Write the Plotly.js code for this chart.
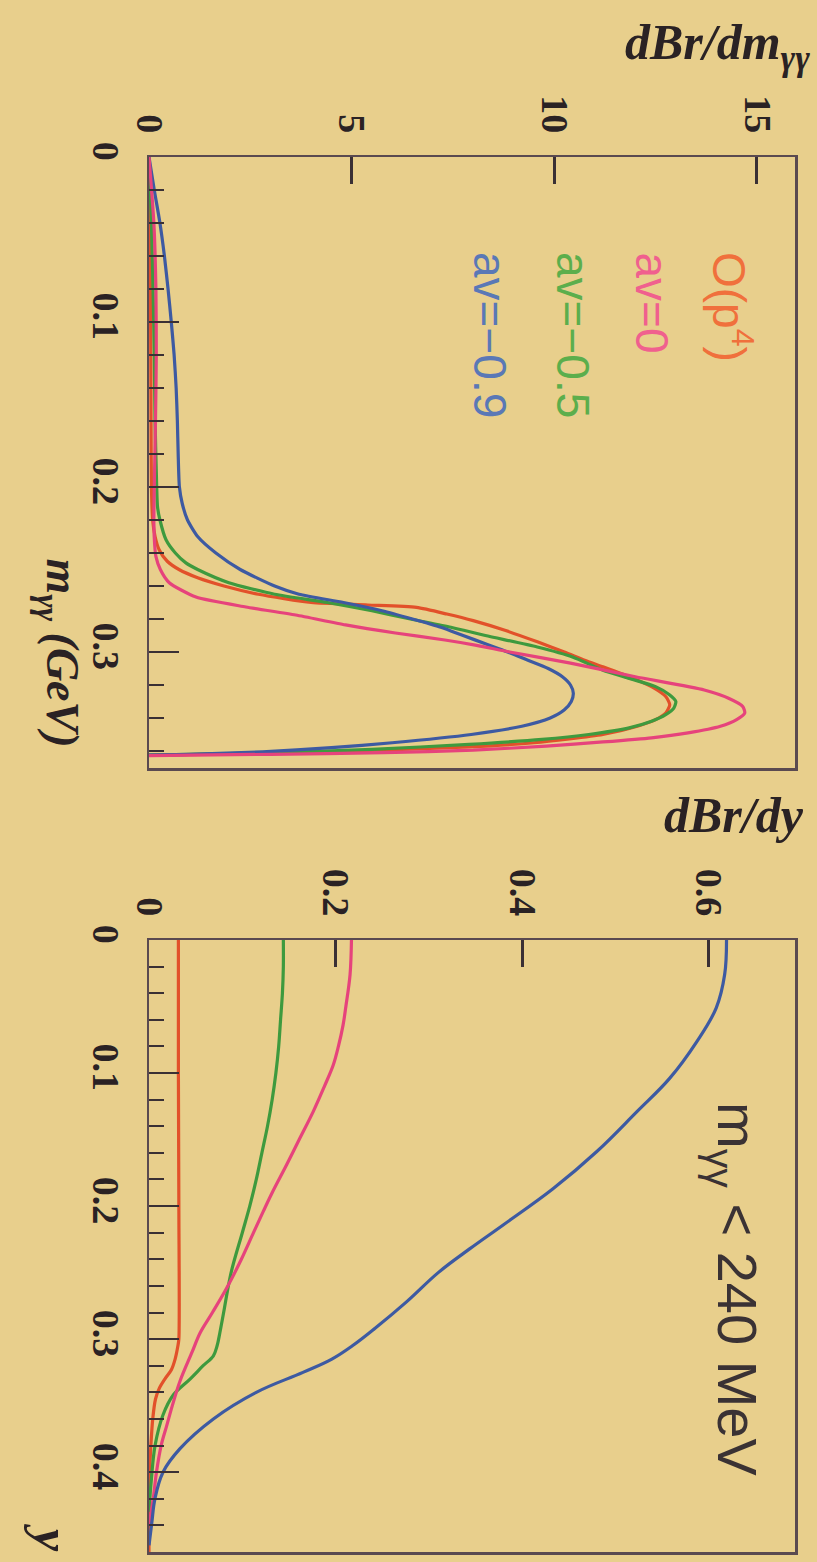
<!DOCTYPE html>
<html>
<head>
<meta charset="utf-8">
<script src="https://cdn.plot.ly/plotly-3.0.1.min.js"></script>
<style>
html,body{margin:0;padding:0;background:#E8CF8C;}
#chart{width:817px;height:1562px;}
</style>
</head>
<body>
<div id="chart"></div>
<script>
// ---------- Top panel: dBr/dm_gg versus m_gg (GeV) ----------
const mRed   = [0, 0.04, 0.10, 0.16, 0.20, 0.22, 0.23, 0.238, 0.245, 0.25, 0.255, 0.26, 0.265, 0.27, 0.2715, 0.273, 0.277, 0.281, 0.287, 0.294, 0.300, 0.305, 0.309, 0.315, 0.321, 0.327, 0.332, 0.337, 0.341, 0.345, 0.350, 0.355, 0.3575, 0.360, 0.3615, 0.3625];
const dRed   = [0, 0.02, 0.04, 0.05, 0.06, 0.09, 0.15, 0.25, 0.45, 0.74, 1.2, 1.85, 2.7, 4.0, 5.4, 6.6, 7.35, 8.0, 8.8, 9.6, 10.25, 10.75, 11.2, 11.85, 12.4, 12.75, 12.85, 12.75, 12.5, 12.05, 11.2, 9.5, 7.9, 5.0, 2.8, 0];

const mGreen = [0, 0.04, 0.08, 0.12, 0.16, 0.20, 0.212, 0.22, 0.232, 0.24, 0.246, 0.25, 0.258, 0.265, 0.27, 0.275, 0.28, 0.285, 0.29, 0.297, 0.303, 0.311, 0.316, 0.321, 0.326, 0.330, 0.334, 0.338, 0.342, 0.346, 0.350, 0.353, 0.356, 0.359, 0.361, 0.3625];
const dGreen = [0, 0.06, 0.10, 0.13, 0.15, 0.19, 0.21, 0.27, 0.42, 0.65, 0.91, 1.2, 1.97, 3.1, 4.4, 5.5, 6.45, 7.45, 8.3, 9.58, 10.45, 11.2, 11.85, 12.5, 12.85, 13.0, 12.95, 12.75, 12.4, 11.85, 10.85, 9.7, 7.9, 5.5, 3.2, 0];

const mPink  = [0, 0.04, 0.08, 0.12, 0.16, 0.20, 0.222, 0.235, 0.242, 0.25, 0.258, 0.2667, 0.2727, 0.2776, 0.2836, 0.2885, 0.2927, 0.2958, 0.300, 0.3067, 0.315, 0.323, 0.328, 0.333, 0.337, 0.341, 0.345, 0.349, 0.352, 0.3545, 0.357, 0.3595, 0.361, 0.362, 0.3628];
const dPink  = [0, 0.12, 0.17, 0.18, 0.16, 0.13, 0.12, 0.14, 0.17, 0.28, 0.5, 1.16, 2.39, 3.62, 4.85, 6.08, 7.3, 8.05, 8.9, 10.4, 12.0, 13.7, 14.3, 14.65, 14.7, 14.5, 14.1, 13.3, 12.4, 11.2, 9.8, 8.0, 5.8, 3.0, 0];

const mBlue  = [0, 0.02, 0.04, 0.06, 0.08, 0.10, 0.12, 0.14, 0.16, 0.18, 0.20, 0.21, 0.22, 0.23, 0.24, 0.25, 0.26, 0.265, 0.27, 0.275, 0.28, 0.285, 0.29, 0.295, 0.30, 0.305, 0.31, 0.315, 0.32, 0.325, 0.33, 0.335, 0.34, 0.345, 0.35, 0.355, 0.358, 0.3605, 0.362, 0.3625];
const dBlue  = [0, 0.13, 0.27, 0.38, 0.47, 0.55, 0.62, 0.67, 0.70, 0.72, 0.75, 0.82, 0.95, 1.2, 1.65, 2.25, 3.1, 3.7, 4.8, 5.75, 6.5, 7.2, 7.75, 8.3, 8.85, 9.35, 9.85, 10.2, 10.4, 10.47, 10.42, 10.25, 9.9, 9.2, 7.95, 6.0, 4.5, 2.8, 1.0, 0];

// ---------- Bottom panel: dBr/dy versus y (m_gg < 240 MeV) ----------
const yRed   = [0, 0.1, 0.2, 0.3, 0.305, 0.315, 0.323, 0.33, 0.337, 0.345, 0.36, 0.38, 0.41, 0.46];
const vRed   = [0.0315, 0.0315, 0.032, 0.032, 0.031, 0.028, 0.024, 0.017, 0.011, 0.007, 0.004, 0.002, 0, 0];

const yGreen = [0, 0.02, 0.04, 0.06, 0.08, 0.10, 0.12, 0.14, 0.16, 0.18, 0.20, 0.22, 0.25, 0.28, 0.295, 0.305, 0.3125, 0.32, 0.33, 0.342, 0.357, 0.38, 0.41, 0.43];
const vGreen = [0.144, 0.144, 0.143, 0.141, 0.139, 0.136, 0.132, 0.127, 0.121, 0.115, 0.108, 0.100, 0.088, 0.080, 0.076, 0.073, 0.069, 0.058, 0.044, 0.026, 0.015, 0.0065, 0.002, 0];

const yPink  = [0, 0.026, 0.05, 0.064, 0.08, 0.094, 0.11, 0.129, 0.15, 0.169, 0.19, 0.204, 0.22, 0.24, 0.262, 0.28, 0.295, 0.31, 0.332, 0.35, 0.365, 0.38, 0.40, 0.42, 0.44];
const vPink  = [0.217, 0.2155, 0.211, 0.208, 0.203, 0.1975, 0.188, 0.176, 0.161, 0.1475, 0.132, 0.1225, 0.112, 0.099, 0.083, 0.068, 0.055, 0.046, 0.033, 0.025, 0.019, 0.013, 0.008, 0.0045, 0];

const yBlue  = [0, 0.026, 0.051, 0.0765, 0.104, 0.129, 0.159, 0.187, 0.214, 0.232, 0.25, 0.272, 0.292, 0.305, 0.315, 0.325, 0.34, 0.36, 0.3825, 0.40, 0.42, 0.438, 0.455];
const vBlue  = [0.619, 0.617, 0.608, 0.587, 0.558, 0.523, 0.48, 0.433, 0.38, 0.344, 0.31, 0.276, 0.242, 0.218, 0.196, 0.165, 0.115, 0.069, 0.033, 0.015, 0.0064, 0.003, 0];

// ---------- labels ----------
const seriesNames = ['O(p<sup>4</sup>)', 'av=0', 'av=\u22120.5', 'av=\u22120.9'];
const lineColors  = ['#E2512A', '#E6437C', '#3E9A3E', '#3D5AA2'];
const textColors  = ['#F0703C', '#F0608E', '#5CAE4C', '#5A78B6'];
const topXTicks = [0, 5, 10, 15];
const topYTicks = [0, 0.1, 0.2, 0.3];
const botXTicks = [0, 0.2, 0.4, 0.6];
const botYTicks = [0, 0.1, 0.2, 0.3, 0.4];

// ---------- geometry helpers (pixels -> paper) ----------
const W = 817, H = 1562;
const px = v => v / W;
const py = v => 1 - v / H;

const serif = 'Liberation Serif, Times New Roman, serif';
const sans = 'Liberation Sans, Arial, Helvetica, sans-serif';
const ink = '#2a2224';
const frame = '#5a4a50';

function trace(x, y, color, xa, ya, sm) {
  return {x: x, y: y, xaxis: xa, yaxis: ya, mode: 'lines', type: 'scatter',
          line: {color: color, width: 3.2, shape: 'spline', smoothing: sm},
          hoverinfo: 'skip', showlegend: false};
}

const data = [
  trace(dRed,   mRed,   lineColors[0], 'x', 'y', 0.6),
  trace(dGreen, mGreen, lineColors[2], 'x', 'y', 0.6),
  trace(dBlue,  mBlue,  lineColors[3], 'x', 'y', 0.6),
  trace(dPink,  mPink,  lineColors[1], 'x', 'y', 0.6),
  trace(vRed,   yRed,   lineColors[0], 'x2', 'y2', 0.8),
  trace(vGreen, yGreen, lineColors[2], 'x2', 'y2', 1.0),
  trace(vPink,  yPink,  lineColors[1], 'x2', 'y2', 1.0),
  trace(vBlue,  yBlue,  lineColors[3], 'x2', 'y2', 1.1)
];

const tickFont = {family: serif, size: 38, color: ink, weight: 'bold'};

function xAxis(domain, range, ticks, anchor) {
  return {domain: domain, range: range, anchor: anchor, side: 'top',
          tickmode: 'array', tickvals: ticks, ticktext: ticks.map(String),
          ticks: 'inside', ticklen: 27, tickwidth: 3, tickcolor: '#3a3034',
          tickangle: 90, tickfont: tickFont, ticklabelstandoff: 8,
          showline: true, linecolor: frame, linewidth: 2.5, mirror: true,
          showgrid: false, zeroline: false, fixedrange: true};
}
function yAxis(domain, range, ticks, anchor) {
  return {domain: domain, range: range, anchor: anchor, side: 'left',
          tickmode: 'array', tickvals: ticks, ticktext: ticks.map(String),
          ticks: 'inside', ticklen: 30, tickwidth: 2.5, tickcolor: '#3a3034',
          minor: {dtick: 0.02, tick0: 0, ticks: 'inside', ticklen: 15, tickwidth: 2, tickcolor: '#3a3034'},
          tickangle: 90, tickfont: tickFont, ticklabelstandoff: 8,
          showline: true, linecolor: frame, linewidth: 2.5, mirror: true,
          showgrid: false, zeroline: false, fixedrange: true};
}

const titleFont = {family: serif, size: 50, color: ink};
const annotations = [
  {text: '<b><i>dBr/dm<sub>\u03b3\u03b3</sub></i></b>', xref: 'paper', yref: 'paper',
   x: px(812), y: py(46), xanchor: 'right', yanchor: 'middle', showarrow: false, font: titleFont},
  {text: '<b><i>dBr/dy</i></b>', xref: 'paper', yref: 'paper',
   x: px(806), y: py(815), xanchor: 'right', yanchor: 'middle', showarrow: false, font: titleFont},
  {text: '<b><i>m<sub>\u03b3\u03b3</sub> (GeV)</i></b>', xref: 'paper', yref: 'paper', textangle: 90,
   x: px(58), y: py(556), xanchor: 'center', yanchor: 'top', showarrow: false,
   font: {family: serif, size: 46, color: ink}},
  {text: '<b><i>y</i></b>', xref: 'paper', yref: 'paper', textangle: 90,
   x: px(52), y: py(1538), xanchor: 'center', yanchor: 'middle', showarrow: false, font: titleFont},
  {text: 'm<sub>\u03b3\u03b3</sub> &lt; 240 MeV', xref: 'paper', yref: 'paper', textangle: 90,
   x: px(734), y: py(1100), xanchor: 'center', yanchor: 'top', showarrow: false,
   font: {family: sans, size: 56, color: '#3a3234'}}
];
const legendX = [732, 652, 573, 490];
seriesNames.forEach((name, i) => {
  annotations.push({text: name, xref: 'paper', yref: 'paper', textangle: 90,
    x: px(legendX[i]), y: py(250), xanchor: 'center', yanchor: 'top', showarrow: false,
    font: {family: sans, size: 46, color: textColors[i]}});
});

const layout = {
  width: W, height: H,
  margin: {l: 0, r: 0, t: 0, b: 0},
  paper_bgcolor: '#E8CF8C', plot_bgcolor: '#E8CF8C',
  showlegend: false,
  xaxis:  xAxis([px(149), px(795)], [0, 15.94], topXTicks, 'y'),
  yaxis:  yAxis([py(768), py(157)], [0.3703, 0], topYTicks, 'x'),
  xaxis2: xAxis([px(149), px(795)], [0, 0.6924], botXTicks, 'y2'),
  yaxis2: yAxis([py(1552), py(940)], [0.460, 0], botYTicks, 'x2'),
  annotations: annotations
};

Plotly.newPlot('chart', data, layout, {staticPlot: true, displayModeBar: false});
</script>
</body>
</html>
